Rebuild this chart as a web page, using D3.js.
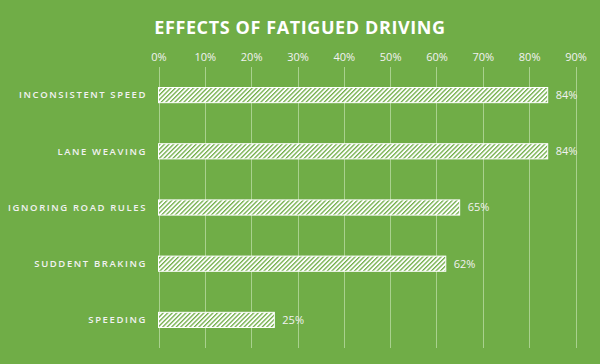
<!DOCTYPE html>
<html>
<head>
<meta charset="utf-8">
<script src="https://cdn.jsdelivr.net/npm/d3@7"></script>
<style>
	body { margin: 0; background: #70ad47; }
	svg { display: block; }
</style>
</head>
<body>
<svg id="chart" width="600" height="364"></svg>
<script>
// chart data
const categories = ["INCONSISTENT SPEED", "LANE WEAVING", "IGNORING ROAD RULES", "SUDDENT BRAKING", "SPEEDING"];
const values = [84, 84, 65, 62, 25];
const tickValues = [0, 10, 20, 30, 40, 50, 60, 70, 80, 90];

const svg = d3.select("#chart");
const width = 600, height = 364;
const margin = {top: 67, right: 24, bottom: 16, left: 158.5};

svg.append("rect")
	.attr("width", width).attr("height", height)
	.attr("fill", "#70ad47");

// hatch pattern for the bars
const defs = svg.append("defs");
const pat = defs.append("pattern")
	.attr("id", "hatch")
	.attr("patternUnits", "userSpaceOnUse")
	.attr("width", 3.2).attr("height", 3.2)
	.attr("patternTransform", "rotate(45)");
pat.append("rect").attr("width", 3.2).attr("height", 3.2).attr("fill", "#ffffff");
pat.append("rect").attr("x", 0).attr("width", 1.3).attr("height", 3.2).attr("fill", "#70ad47");

const x = d3.scaleLinear()
	.domain([0, 90])
	.range([margin.left, 575.5]);

const y = d3.scaleBand()
	.domain(categories)
	.range([margin.top, height - margin.bottom])
	.paddingInner(0.73)
	.paddingOuter(0.365);

// title
svg.append("text")
	.attr("x", 300).attr("y", 34)
	.attr("text-anchor", "middle")
	.attr("font-family", "Open Sans, sans-serif")
	.attr("font-weight", "bold")
	.attr("font-size", 18)
	.attr("letter-spacing", 0.6)
	.attr("fill", "#ffffff")
	.text("EFFECTS OF FATIGUED DRIVING");

// gridlines
svg.append("g")
	.selectAll("line")
	.data(tickValues)
	.enter().append("line")
	.attr("x1", d => Math.round(x(d)) + 0.5)
	.attr("x2", d => Math.round(x(d)) + 0.5)
	.attr("y1", margin.top)
	.attr("y2", height - margin.bottom)
	.attr("stroke", "#a9d18e")
	.attr("stroke-width", 1);

// top axis labels
const xAxis = d3.axisTop(x)
	.tickValues(tickValues)
	.tickFormat(d => d + "%")
	.tickSize(0)
	.tickPadding(0);

const axisG = svg.append("g")
	.attr("transform", "translate(0,61)")
	.call(xAxis);
axisG.select(".domain").remove();
axisG.selectAll("text")
	.attr("font-family", "Open Sans, sans-serif")
	.attr("font-size", 11)
	.attr("fill", "#f2f2f2");

// category labels
svg.append("g")
	.selectAll("text")
	.data(categories)
	.enter().append("text")
	.attr("x", 147)
	.attr("y", d => y(d) + y.bandwidth() / 2)
	.attr("dy", "0.35em")
	.attr("text-anchor", "end")
	.attr("font-family", "Open Sans, sans-serif")
	.attr("font-weight", "600")
	.attr("font-size", 9.5)
	.attr("letter-spacing", 1.6)
	.attr("fill", "#f2f2f2")
	.text(d => d);

// bars
svg.append("g")
	.selectAll("rect")
	.data(values)
	.enter().append("rect")
	.attr("x", x(0))
	.attr("y", (d, i) => y(categories[i]))
	.attr("width", d => x(d) - x(0))
	.attr("height", y.bandwidth())
	.attr("fill", "url(#hatch)")
	.attr("stroke", "#ffffff")
	.attr("stroke-width", 1);

// value labels
svg.append("g")
	.selectAll("text")
	.data(values)
	.enter().append("text")
	.attr("x", d => x(d) + 8)
	.attr("y", (d, i) => y(categories[i]) + y.bandwidth() / 2)
	.attr("dy", "0.35em")
	.attr("font-family", "Open Sans, sans-serif")
	.attr("font-size", 11)
	.attr("fill", "#f2f2f2")
	.text(d => d + "%");
</script>
</body>
</html>
